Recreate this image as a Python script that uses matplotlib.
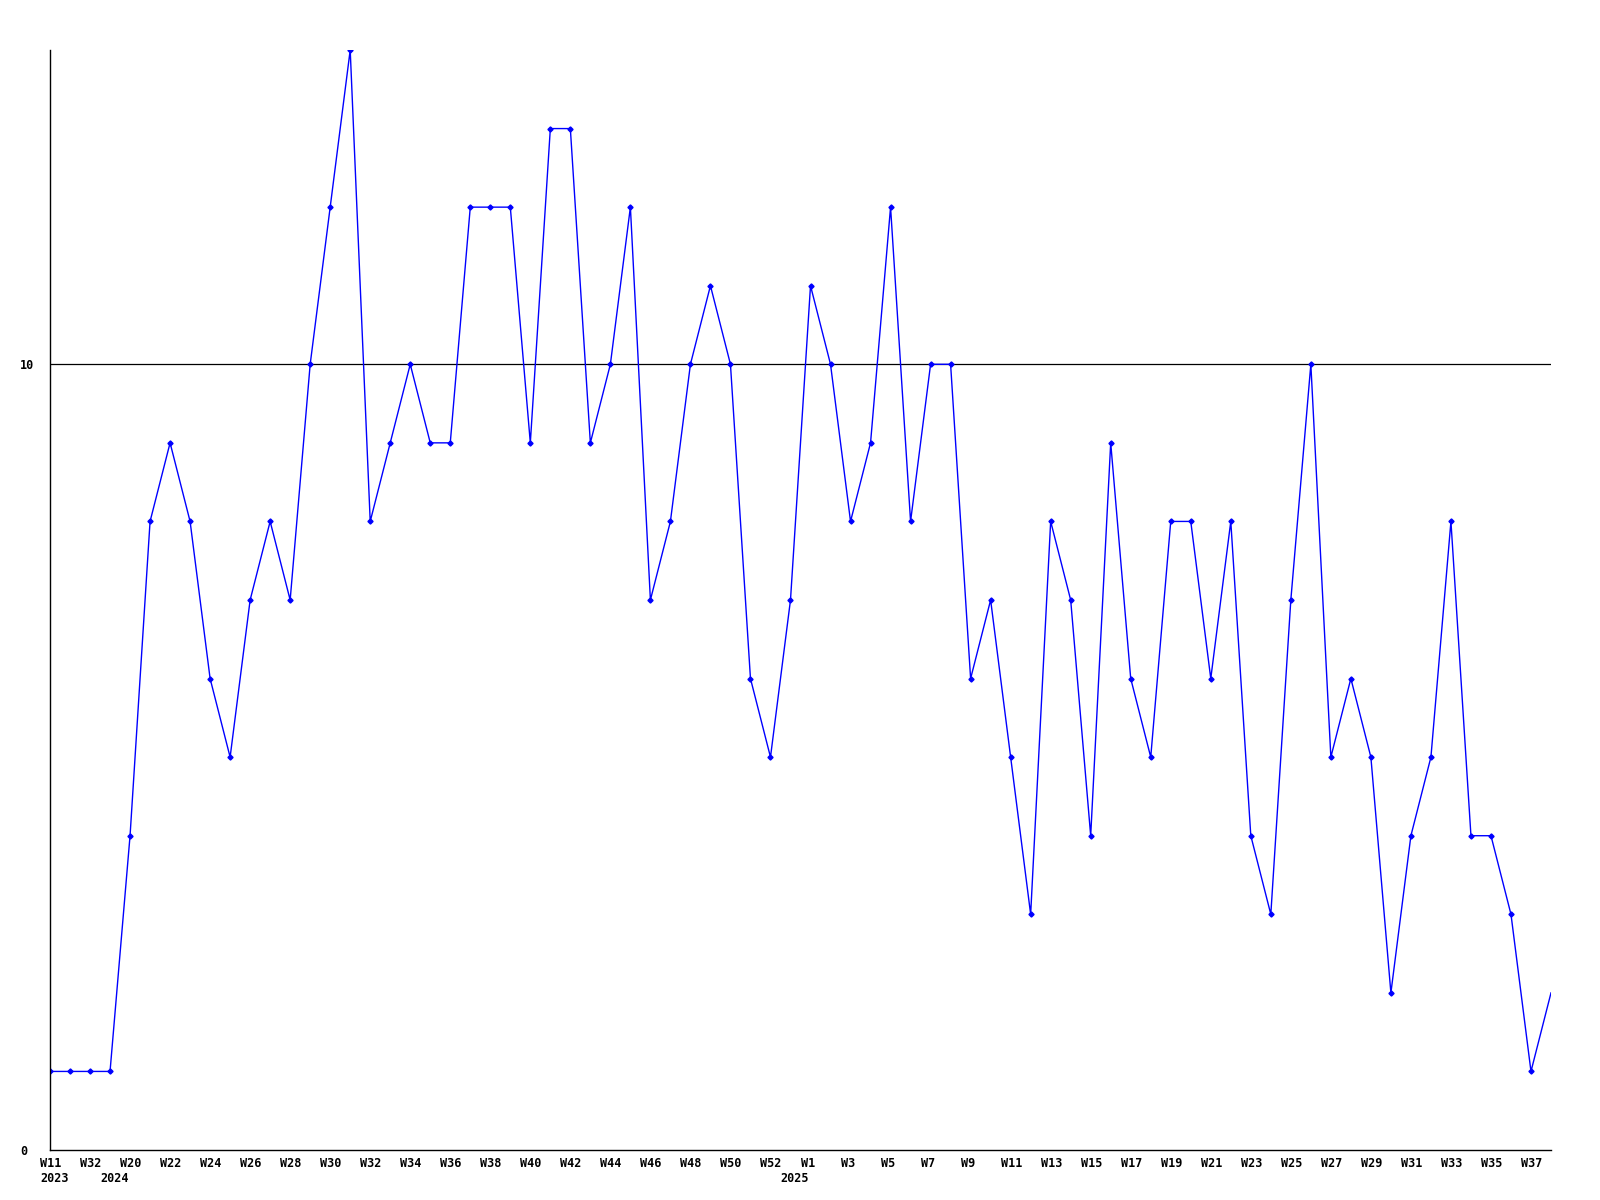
import matplotlib
matplotlib.use("Agg")
import matplotlib.pyplot as plt
from matplotlib.transforms import offset_copy

# weekly counts, one per point from left to right
counts = [1, 1, 1, 1, 4, 8, 9, 8, 6, 5,
          7, 8, 7, 10, 12, 14, 8, 9, 10, 9,
          9, 12, 12, 12, 9, 13, 13, 9, 10, 12,
          7, 8, 10, 11, 10, 6, 5, 7, 11, 10,
          8, 9, 12, 8, 10, 10, 6, 7, 5, 3,
          8, 7, 4, 9, 6, 5, 8, 8, 6, 8,
          4, 3, 7, 10, 5, 6, 5, 2, 4, 5,
          8, 4, 4, 3, 1, 2]

# week labels on every other point
week_labels = (["W11", "W32"] + ["W%d" % w for w in range(20, 53, 2)]
               + ["W%d" % w for w in range(1, 38, 2)])
week_pos = list(range(0, len(counts), 2))

# year labels (second line)
years = ["2023", "2024", "2025"]
year_pos = [0, 3, 37]

font = {"family": "DejaVu Sans Mono", "weight": "bold", "size": 8.5}

fig = plt.figure(figsize=(16, 12), dpi=100)
ax = fig.add_axes([50 / 1600, 1 - 1150 / 1200, 1501 / 1600, 1100 / 1200])

x = list(range(len(counts)))
ax.plot(x, counts, color="#0000ff", linewidth=1.0, marker="D", markersize=2.6,
        markevery=slice(0, len(counts) - 1))
ax.axhline(10, color="black", linewidth=0.9, zorder=1)

ax.set_xlim(0, len(counts) - 1)
ax.set_ylim(0, 14)

for s in ["top", "right"]:
    ax.spines[s].set_visible(False)
for s in ["left", "bottom"]:
    ax.spines[s].set_linewidth(1.0)

ax.set_xticks([])
ax.set_yticks([0, 10])
ax.set_yticklabels(["0", "10"], **font)
ax.tick_params(axis="y", length=0, pad=21.6)
for lab in ax.get_yticklabels():
    lab.set_horizontalalignment("left")

tr_week = offset_copy(ax.get_xaxis_transform(), fig=fig, x=-10, y=-7, units="dots")
for p, lab in zip(week_pos, week_labels):
    ax.text(p, 0, lab, transform=tr_week, ha="left", va="top", **font)

tr_year = offset_copy(ax.get_xaxis_transform(), fig=fig, x=-10, y=-22, units="dots")
for p, lab in zip(year_pos, years):
    ax.text(p, 0, lab, transform=tr_year, ha="left", va="top", **font)

fig.savefig("out.png", dpi=100, facecolor="white")
